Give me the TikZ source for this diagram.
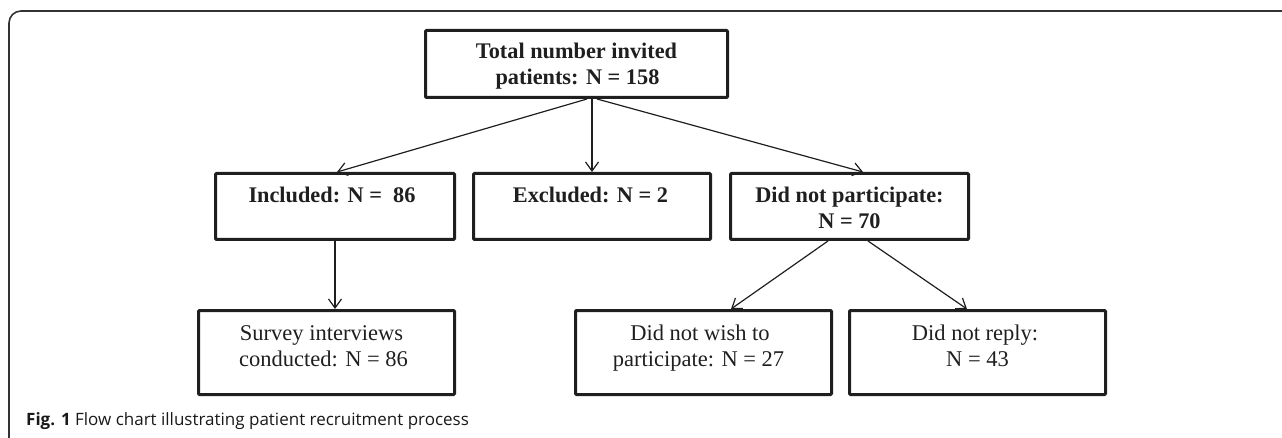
\documentclass[tikz,border=0pt]{standalone}
\usepackage{fontspec}
\setmainfont{Liberation Serif}
\newfontfamily\capfont{Open Sans}
\usetikzlibrary{arrows.meta,calc}
\begin{document}
\begin{tikzpicture}[x=1pt,y=-1pt,
  frame/.style={draw=black!80, line width=1.6pt, rounded corners=12pt},
  box/.style={draw=black!88, line width=3pt, rounded corners=1pt, inner sep=0pt},
  topbox/.style={box, minimum width=302pt, minimum height=67pt},
  lowbox/.style={box, minimum width=256pt, minimum height=84pt},
  btxt/.style={anchor=base, inner sep=0pt, font=\bfseries\fontsize{22.3}{26}\selectfont, text=black!88},
  rtxt/.style={anchor=base, inner sep=0pt, font=\fontsize{22.5}{26}\selectfont, text=black!88},
  arr/.style={draw=black!88, line width=1.2pt, -{Straight Barb[length=9pt,width=13pt]}}
]
\useasboundingbox (0,0) rectangle (1282,438);
% outer frame
\draw[frame] (9,438) -- (9,11) -- (1282,11);

% boxes
\node[topbox] (top) at (576.5,64) {};
\node[box, minimum width=239pt, minimum height=66pt] (inc) at (335,206.5) {};
\node[box, minimum width=237pt, minimum height=66pt] (exc) at (592,206.5) {};
\node[box, minimum width=238pt, minimum height=66pt] (dnp) at (849.5,206.5) {};
\node[lowbox] (sur) at (326.5,352.5) {};
\node[lowbox] (dnw) at (703.5,352.5) {};
\node[lowbox] (dnr) at (977.5,352.5) {};

% texts
\node[btxt] (top1) at ($(top.center)+(0,-5)$) {Total number invited};
\node[btxt] (top2) at ($(top.center)+(1,21)$) {patients: N = 158};
\node[btxt] (inc1) at ($(inc.center)+(-3,-3.5)$) {Included: N =~ 86};
\node[btxt] (exc1) at ($(exc.center)+(-1.5,-3.5)$) {Excluded: N = 2};
\node[btxt] (dnp1) at ($(dnp.center)+(0,-3.5)$) {Did not participate:};
\node[btxt] (dnp2) at ($(dnp.center)+(0,22.5)$) {N = 70};
\node[rtxt] (sur1) at ($(sur.center)+(-5,-12.5)$) {Survey interviews};
\node[rtxt] (sur2) at ($(sur.center)+(-3,13.5)$) {conducted: N = 86};
\node[rtxt] (dnw1) at ($(dnw.center)+(-3.5,-12.5)$) {Did not wish to};
\node[rtxt] (dnw2) at ($(dnw.center)+(-5,13.5)$) {participate: N = 27};
\node[rtxt] (dnr1) at ($(dnr.center)+(-2.5,-12.5)$) {Did not reply:};
\node[rtxt] (dnr2) at ($(dnr.center)+(0,13.5)$) {N = 43};

% connectors
\draw[arr] ([xshift=10.5pt]top.south) -- ([xshift=2pt]inc.north);
\draw[arr] ([xshift=15.5pt]top.south) -- (exc.north);
\draw[arr] ([xshift=20.5pt]top.south) -- ([xshift=13.5pt]dnp.north);
\draw[arr] (inc.south) -- ([xshift=8.5pt]sur.north);
\draw[arr] ([xshift=-21.5pt]dnp.south) -- ([xshift=27.5pt]dnw.north);
\draw[arr] ([xshift=18.5pt]dnp.south) -- ([xshift=-10.5pt]dnr.north);

% caption
\node[anchor=base west, inner sep=0pt, font=\capfont\fontsize{17}{20}\selectfont, text=black!90] (cap) at (26,425) {\textbf{Fig. 1} Flow chart illustrating patient recruitment process};
\end{tikzpicture}
\end{document}
